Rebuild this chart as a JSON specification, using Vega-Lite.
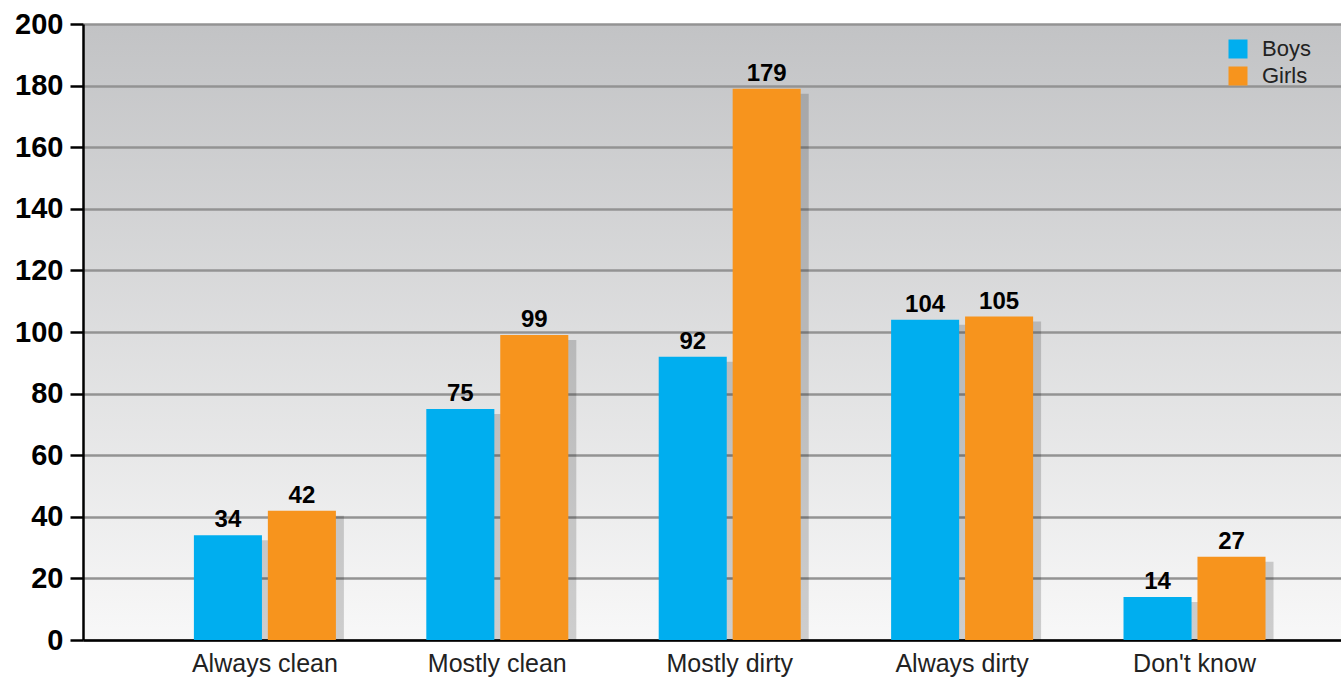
{
  "$schema": "https://vega.github.io/schema/vega-lite/v6.json",
  "autosize": {"type": "none"},
  "width": 1258,
  "height": 616,
  "padding": {"left": 83, "top": 24, "right": 0, "bottom": 38},
  "background": "#ffffff",
  "config": {
    "font": "Liberation Sans",
    "view": {
      "stroke": null,
      "fill": {
        "gradient": "linear",
        "x1": 0, "y1": 0, "x2": 0, "y2": 1,
        "stops": [
          {"offset": 0, "color": "#c2c3c5"},
          {"offset": 1, "color": "#f8f8f8"}
        ]
      }
    }
  },
  "data": {
    "values": [
      {"category": "Always clean", "group": "Boys", "value": 34},
      {"category": "Always clean", "group": "Girls", "value": 42},
      {"category": "Mostly clean", "group": "Boys", "value": 75},
      {"category": "Mostly clean", "group": "Girls", "value": 99},
      {"category": "Mostly dirty", "group": "Boys", "value": 92},
      {"category": "Mostly dirty", "group": "Girls", "value": 179},
      {"category": "Always dirty", "group": "Boys", "value": 104},
      {"category": "Always dirty", "group": "Girls", "value": 105},
      {"category": "Don't know", "group": "Boys", "value": 14},
      {"category": "Don't know", "group": "Girls", "value": 27}
    ]
  },
  "encoding": {
    "x": {
      "field": "category",
      "type": "nominal",
      "sort": null,
      "scale": {"paddingInner": 0.389, "paddingOuter": 0.401, "align": 0.595},
      "axis": {
        "title": null,
        "labelAngle": 0,
        "labelFontSize": 25,
        "labelColor": "#222222",
        "labelPadding": 11,
        "ticks": false,
        "domainColor": "#000000",
        "domainWidth": 2.5,
        "grid": false
      }
    },
    "y": {
      "field": "value",
      "type": "quantitative",
      "scale": {"domain": [0, 200], "nice": false},
      "axis": {
        "title": null,
        "values": [0, 20, 40, 60, 80, 100, 120, 140, 160, 180, 200],
        "labelFontSize": 29,
        "labelFontWeight": "bold",
        "labelColor": "#000000",
        "labelPadding": 7,
        "tickColor": "#000000",
        "tickWidth": 2.5,
        "tickSize": 13,
        "domainColor": "#000000",
        "domainWidth": 2.5,
        "gridColor": "#939393",
        "gridWidth": 2.5
      }
    }
  },
  "resolve": {"scale": {"xOffset": "independent"}},
  "layer": [
    {
      "mark": {"type": "bar", "color": "#000000", "opacity": 0.17, "yOffset": 5, "clip": true},
      "encoding": {
        "xOffset": {
          "field": "group",
          "type": "nominal",
          "scale": {"paddingInner": 0.08, "paddingOuter": 0, "range": [8, 150]}
        }
      }
    },
    {
      "layer": [
        {
          "mark": {"type": "bar"},
          "encoding": {
            "color": {
              "field": "group",
              "type": "nominal",
              "scale": {"domain": ["Boys", "Girls"], "range": ["#00aeef", "#f7941d"]},
              "legend": {
                "title": null,
                "orient": "none",
                "legendX": 1144,
                "legendY": 14,
                "symbolType": "square",
                "symbolSize": 361,
                "symbolStrokeWidth": 0,
                "symbolOpacity": 1,
                "labelFontSize": 22,
                "labelColor": "#222222",
                "labelOffset": 13,
                "rowPadding": 5,
                "padding": 0
              }
            }
          }
        },
        {
          "mark": {"type": "text", "baseline": "alphabetic", "dy": -8, "fontSize": 24, "fontWeight": "bold", "color": "#000000"},
          "encoding": {
            "text": {"field": "value", "type": "quantitative"}
          }
        }
      ],
      "encoding": {
        "xOffset": {
          "field": "group",
          "type": "nominal",
          "scale": {"paddingInner": 0.08, "paddingOuter": 0}
        }
      }
    }
  ]
}
